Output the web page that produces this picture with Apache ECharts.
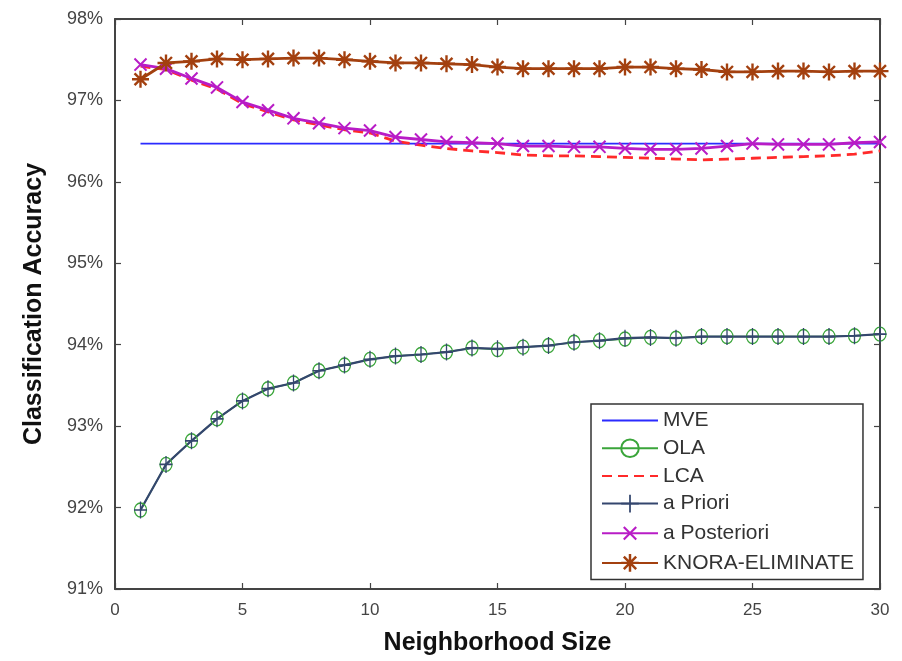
<!DOCTYPE html>
<html>
<head>
<meta charset="utf-8">
<script src="https://cdn.jsdelivr.net/npm/echarts@6/dist/echarts.min.js"></script>
<style>html,body{margin:0;padding:0;background:#fff}#c{width:902px;height:661px}</style>
</head>
<body>
<div id="c"></div>
<script>
const neighborhoodSizes = [1,2,3,4,5,6,7,8,9,10,11,12,13,14,15,16,17,18,19,20,21,22,23,24,25,26,27,28,29,30];
const xTicks = [0,5,10,15,20,25,30];
const yTicks = [91,92,93,94,95,96,97,98];
const mveAcc = [96.47,96.47,96.47,96.47,96.47,96.47,96.47,96.47,96.47,96.47,96.47,96.47,96.47,96.47,96.47,96.47,96.47,96.47,96.47,96.47,96.47,96.47,96.47,96.47,96.47,96.47,96.47,96.47,96.47,96.47];
const olaAcc = [91.97,92.53,92.82,93.09,93.31,93.46,93.53,93.68,93.75,93.82,93.86,93.88,93.91,93.96,93.94,93.97,93.99,94.03,94.05,94.07,94.09,94.08,94.10,94.10,94.10,94.10,94.10,94.10,94.11,94.13];
const lcaAcc = [97.42,97.38,97.25,97.14,96.96,96.86,96.76,96.70,96.64,96.60,96.50,96.45,96.41,96.38,96.36,96.33,96.32,96.32,96.31,96.30,96.29,96.28,96.27,96.28,96.29,96.30,96.31,96.32,96.34,96.38];
const aPrioriAcc = [91.97,92.53,92.82,93.09,93.31,93.46,93.53,93.68,93.75,93.82,93.86,93.88,93.91,93.96,93.95,93.97,93.99,94.03,94.05,94.08,94.09,94.08,94.10,94.10,94.10,94.10,94.10,94.10,94.11,94.13];
const aPosterioriAcc = [97.44,97.39,97.27,97.16,96.98,96.88,96.78,96.72,96.66,96.63,96.55,96.52,96.49,96.48,96.47,96.44,96.44,96.43,96.43,96.41,96.40,96.40,96.41,96.44,96.47,96.46,96.46,96.46,96.48,96.49];
const knoraAcc = [97.26,97.46,97.48,97.51,97.50,97.51,97.52,97.52,97.50,97.48,97.46,97.46,97.45,97.44,97.41,97.39,97.39,97.39,97.39,97.41,97.41,97.39,97.38,97.35,97.35,97.36,97.36,97.35,97.36,97.36];

const pair = arr => neighborhoodSizes.map((x,i)=>[x,arr[i]]);
const FONT = "'Liberation Sans', Arial, sans-serif";
const PLUS = 'path://M-1,-10 L1,-10 L1,10 L-1,10 Z M-10,-1 L10,-1 L10,1 L-10,1 Z';
const XMARK = 'path://M-1.2,-10 L1.2,-10 L1.2,10 L-1.2,10 Z M-10,-1.2 L10,-1.2 L10,1.2 L-10,1.2 Z';
const STAR = 'path://M-1.4,-10 L1.4,-10 L1.4,10 L-1.4,10 Z M-10,-1.4 L10,-1.4 L10,1.4 L-10,1.4 Z M-6,-8 L8,6 L6,8 L-8,-6 Z M6,-8 L8,-6 L-6,8 L-8,6 Z';
const axisCol = '#444';
const NONE = 'rgba(0,0,0,0)';

const chart = echarts.init(document.getElementById('c'), null, {renderer:'canvas'});
chart.setOption({
  animation: false,
  backgroundColor: '#fff',
  grid: {left: 115, right: 22, top: 19, bottom: 69},
  legend: {
    orient: 'vertical', left: 591, top: 404,
    backgroundColor: '#fff', borderColor: '#333', borderWidth: 1.5,
    padding: [6, 9, 6, 10],
    itemWidth: 56, itemHeight: 22, itemGap: 6.7,
    textStyle: {fontFamily: FONT, fontSize: 21, color: '#333'},
    data: ['MVE','OLA','LCA','a Priori','a Posteriori','KNORA-ELIMINATE']
  },
  xAxis: [{
    type: 'value', min: xTicks[0], max: xTicks[xTicks.length-1], interval: 5,
    name: 'Neighborhood Size', nameLocation: 'middle', nameGap: 42,
    nameTextStyle: {fontFamily: FONT, fontSize: 25, fontWeight: 'bold', color: '#111'},
    axisLine: {show: true, onZero: false, lineStyle: {color: axisCol, width: 2}},
    axisTick: {show: true, inside: true, length: 6, lineStyle: {color: axisCol, width: 1.2}},
    axisLabel: {fontFamily: FONT, fontSize: 17, color: '#444', margin: 13},
    splitLine: {show: false}
  },{
    type: 'value', position: 'top', min: xTicks[0], max: xTicks[xTicks.length-1], interval: 5,
    axisLine: {show: true, onZero: false, lineStyle: {color: axisCol, width: 2}},
    axisTick: {show: true, inside: true, length: 6, lineStyle: {color: axisCol, width: 1.2}},
    axisLabel: {show: false}, splitLine: {show: false}
  }],
  yAxis: [{
    type: 'value', min: yTicks[0], max: yTicks[yTicks.length-1], interval: 1,
    name: 'Classification Accuracy', nameLocation: 'middle', nameGap: 68,
    nameTextStyle: {fontFamily: FONT, fontSize: 25, fontWeight: 'bold', color: '#111'},
    axisLine: {show: true, onZero: false, lineStyle: {color: axisCol, width: 2}},
    axisTick: {show: true, inside: true, length: 6, lineStyle: {color: axisCol, width: 1.2}},
    axisLabel: {fontFamily: FONT, fontSize: 18, color: '#444', margin: 12, formatter: '{value}%'},
    splitLine: {show: false}
  },{
    type: 'value', position: 'right', min: yTicks[0], max: yTicks[yTicks.length-1], interval: 1,
    axisLine: {show: true, onZero: false, lineStyle: {color: axisCol, width: 2}},
    axisTick: {show: true, inside: true, length: 6, lineStyle: {color: axisCol, width: 1.2}},
    axisLabel: {show: false}, splitLine: {show: false}
  }],
  series: [
    {name: 'MVE', type: 'line', data: pair(mveAcc), symbol: 'none',
     lineStyle: {color: '#2b2bff', width: 1.7}, itemStyle: {color: NONE}},
    {name: 'OLA', type: 'line', data: pair(olaAcc), symbol: 'circle', symbolSize: [12, 14],
     lineStyle: {color: '#3aa53a', width: 1.5},
     itemStyle: {color: NONE, borderColor: '#3aa53a', borderWidth: 1.3}},
    {name: 'LCA', type: 'line', data: pair(lcaAcc), symbol: 'none',
     lineStyle: {color: '#ff2a2a', width: 2.8, type: [10, 6]}, itemStyle: {color: NONE}},
    {name: 'a Priori', type: 'line', data: pair(aPrioriAcc), symbol: PLUS, symbolSize: [13, 17],
     lineStyle: {color: '#34466e', width: 2.2}, itemStyle: {color: '#34466e'}},
    {name: 'a Posteriori', type: 'line', data: pair(aPosterioriAcc), symbol: XMARK, symbolSize: 17, symbolRotate: 45,
     lineStyle: {color: '#b81cc6', width: 2.8}, itemStyle: {color: '#b81cc6'}},
    {name: 'KNORA-ELIMINATE', type: 'line', data: pair(knoraAcc), symbol: STAR, symbolSize: 17,
     lineStyle: {color: '#a3400f', width: 2.8}, itemStyle: {color: '#a3400f'}}
  ]
});
</script>
</body>
</html>
